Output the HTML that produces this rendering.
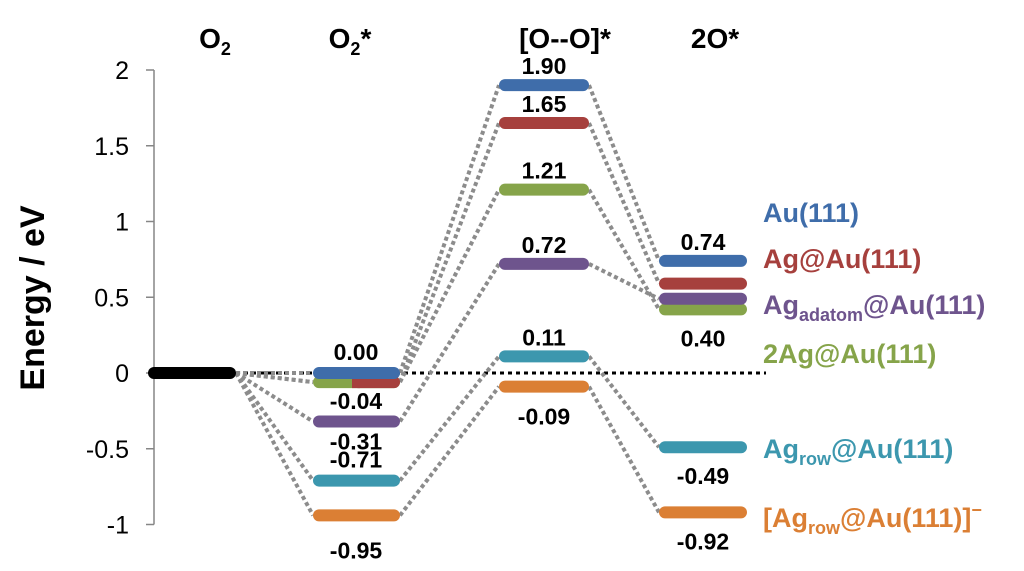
<!DOCTYPE html>
<html><head><meta charset="utf-8"><style>
html,body{margin:0;padding:0;background:#fff;}
svg{display:block;font-family:"Liberation Sans",sans-serif;}
</style></head><body>
<svg id="chart" width="1024" height="571" viewBox="0 0 1024 571"></svg>
<script>
const series = ["Au(111)","Ag@Au(111)","Agadatom@Au(111)","2Ag@Au(111)","Agrow@Au(111)","[Agrow@Au(111)]-"];
const colors = ["#3F6DAA","#A6403D","#6E548D","#86A44A","#3C97AE","#DB7F34"];
const stages = ["O2","O2*","[O--O]*","2O*"];
const o2Values = [0,0,0,0,0,0];
const o2sValues = [0.00,-0.06,-0.32,-0.06,-0.71,-0.94];
const tsValues = [1.90,1.65,0.72,1.21,0.11,-0.09];
const fsValues = [0.74,0.59,0.49,0.42,-0.49,-0.92];
const yTicks = [2,1.5,1,0.5,0,-0.5,-1];
const yTickLabels = ["2","1.5","1","0.5","0","-0.5","-1"];
const o2sLabels = [["0.00",-1],["-0.04",1],["-0.31",1],["-0.71",-1],["-0.95",2]];
const tsLabels = ["1.90","1.65","0.72","1.21","0.11","-0.09"];
const fsLabels = [["0.74",0,-1],["0.40",3,1],["-0.49",4,1],["-0.92",5,1]];

const NS="http://www.w3.org/2000/svg";
const svg=document.getElementById('chart');
function y(v){return 373-v*151.5;}
function mk(tag,attrs,parent){const e=document.createElementNS(NS,tag);for(const k in attrs)e.setAttribute(k,attrs[k]);(parent||svg).appendChild(e);return e;}
const colX=[[148,236],[313,400],[499,589],[659,747]];
const allVals=[o2Values,o2sValues,tsValues,fsValues];

let ax=mk('line',{x1:154,y1:y(2),x2:154,y2:y(-1),stroke:'#868686','stroke-width':1.5});


yTicks.forEach((t,i)=>{
  let tk=mk('line',{x1:146,y1:y(t),x2:154,y2:y(t),stroke:'#868686','stroke-width':1.5});
  
  
  let tl=mk('text',{x:129,y:y(t)+9,'text-anchor':'end','font-size':25,fill:'#000'});
  tl.textContent=yTickLabels[i];
  
  
});
let yt=mk('text',{x:0,y:0,transform:'translate(44,298) rotate(-90)','text-anchor':'middle','font-size':34,'font-weight':'bold'});
yt.textContent='Energy / eV';



const hdrX=[215,350,565,715];
const hdrHTML=['O<tspan font-size="18" dy="7">2</tspan>','O<tspan font-size="18" dy="7">2</tspan><tspan dy="-7">*</tspan>','[O--O]*','2O*'];
hdrX.forEach((x,i)=>{
  let h=mk('text',{x:x,y:48,'text-anchor':'middle','font-size':28,'font-weight':'bold'});
  h.innerHTML=hdrHTML[i];
  
  
});

let zl=mk('line',{x1:236,y1:y(0),x2:766,y2:y(0),stroke:'#000','stroke-width':3,'stroke-dasharray':'4,4'});



for(let c=0;c<3;c++){
  series.forEach((s,i)=>{
    let l=mk('line',{x1:colX[c][1],y1:y(allVals[c][i]),x2:colX[c+1][0],y2:y(allVals[c+1][i]),stroke:'#8c8c8c','stroke-width':4,'stroke-dasharray':'4,3'});
    
    
  });
}

function bar(x1,x2,v,col,name,r){
  let e=mk('rect',{x:x1,y:y(v)-6,width:x2-x1,height:12,rx:(r===undefined?6:r),fill:col});
  
  
}
bar(148,236,0,'#000','o2-level');
for(let c=1;c<4;c++){
  for(let i=series.length-1;i>=0;i--){
    if(c===1&&(i===0||i===1)) continue;
    if(c===1&&i===3){bar(313,400,o2sValues[i],colors[i],'level-'+c+'-'+i);continue;}
    bar(colX[c][0],colX[c][1],allVals[c][i],colors[i],'level-'+c+'-'+i);
  }
  if(c===1){
    bar(352,400,o2sValues[1],colors[1],'level-1-1');
    bar(352,360,o2sValues[1],colors[1],'level-1-1-edge',0);
    bar(313,400,o2sValues[0],colors[0],'level-1-0');
  }
}

function lab(x,yy,t,name){
  let e=mk('text',{x:x,y:yy,'text-anchor':'middle','font-size':23,'font-weight':'bold'});
  e.textContent=t;
  
  
}
const o2sIdx=[0,1,2,4,5];
o2sLabels.forEach((l,k)=>{
  const v=o2sValues[o2sIdx[k]];
  let yy=l[1]<0?y(v)-13:(l[1]===2?y(v)+43:y(v)+28);
  if(k===1) yy=y(v)+27;
  lab(356,yy,l[0],'o2s-value-label');
});
tsValues.forEach((v,i)=>{
  let yy=i===5?y(v)+38:y(v)-11;
  lab(544,yy,tsLabels[i],'ts-value-label');
});
fsLabels.forEach(l=>{
  const v=fsValues[l[1]];
  let yy=l[2]<0?y(v)-11:y(v)+37;
  lab(703,yy,l[0],'fs-value-label');
});

const legY=[222,268,314,363,458,527];
const legHTML=['Au(111)','Ag@Au(111)','Ag<tspan font-size="18" dy="7">adatom</tspan><tspan dy="-7">@Au(111)</tspan>','2Ag@Au(111)','Ag<tspan font-size="18" dy="7">row</tspan><tspan dy="-7">@Au(111)</tspan>','[Ag<tspan font-size="18" dy="7">row</tspan><tspan dy="-7">@Au(111)]</tspan><tspan font-size="18" dy="-11">−</tspan>'];
legY.forEach((yy,i)=>{
  let e=mk('text',{x:763,y:yy,'font-size':27,'font-weight':'bold',fill:colors[i]});
  e.innerHTML=legHTML[i];
  
  
});
</script>
</body></html>
